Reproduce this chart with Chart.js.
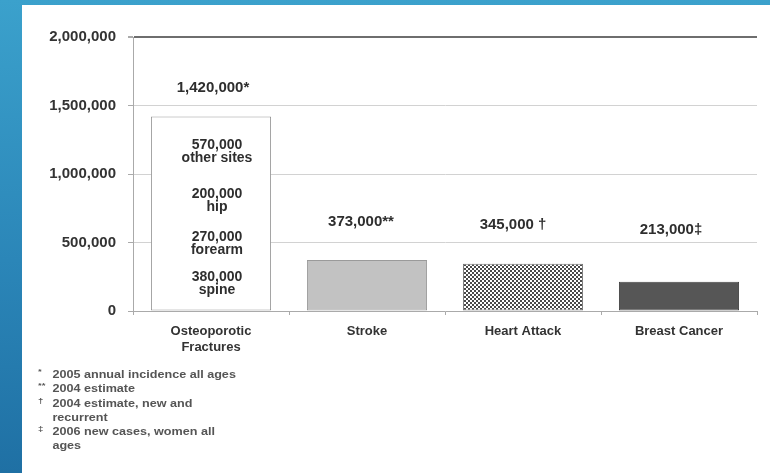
<!DOCTYPE html>
<html>
<head>
<meta charset="utf-8">
<script src="https://cdn.jsdelivr.net/npm/chart.js@4/dist/chart.umd.min.js"></script>
<style>
    html, body { margin: 0; padding: 0; }
    body { width: 770px; height: 473px; overflow: hidden; position: relative;
           background: linear-gradient(180deg, #3ba1cc 0%, #2b86b8 55%, #1f70a4 100%); }
    #panel { position: absolute; left: 22px; top: 5px; width: 748px; height: 468px; background: #fff; }
    #wrap { position: absolute; left: 0; top: 0; width: 770px; height: 473px; }
    #notes { position: absolute; left: 38px; top: 367px; font: bold 10.5px "Liberation Sans", Arial, sans-serif;
             color: #555; line-height: 14.3px; transform: scaleX(1.2); transform-origin: left top; }
    #notes div { position: relative; padding-left: 12px; width: 156px; }
    #notes span { position: absolute; left: 0; top: -2px; font-size: 8px; }
</style>
</head>
<body>
<div id="panel"></div>
<div id="wrap"><canvas id="chart" width="770" height="473"></canvas></div>
<div id="notes"></div>
<script>
const categories = [['Osteoporotic', 'Fractures'], 'Stroke', 'Heart Attack', 'Breast Cancer'];
const cases = [1420000, 373000, 345000, 213000];
const marks = ['*', '**', ' †', '‡'];
const fractureSites = ['other sites', 'hip', 'forearm', 'spine'];
const fractureCounts = [570000, 200000, 270000, 380000];
const yTicks = [0, 500000, 1000000, 1500000, 2000000];
const footnotes = [
    ['*', '2005 annual incidence all ages'],
    ['**', '2004 estimate'],
    ['†', '2004 estimate, new and recurrent'],
    ['‡', '2006 new cases, women all ages']
];

const fmt = v => v.toLocaleString('en-US');
const FONT = '"Liberation Sans", Arial, sans-serif';

// little checker fill for the heart attack bar
const pc = document.createElement('canvas');
pc.width = 4; pc.height = 4;
const px = pc.getContext('2d');
px.fillStyle = '#fff'; px.fillRect(0, 0, 4, 4);
px.fillStyle = '#4a4a4a'; px.fillRect(0, 0, 2, 2); px.fillRect(2, 2, 2, 2);
const checker = px.createPattern(pc, 'repeat');

// label offsets (style only): shift from bar centre, lift above bar top
const labelDx = [2, -6, -10, -8];
const labelLift = [29, 38, 39, 52];
const siteDrop = [29, 78, 121, 161];

const barText = {
    id: 'barText',
    afterDatasetsDraw(chart) {
        const c = chart.ctx;
        const bars = chart.getDatasetMeta(0).data;
        c.save();
        c.fillStyle = '#2e2e2e';
        c.textAlign = 'center';
        c.textBaseline = 'middle';
        c.font = 'bold 15px ' + FONT;
        bars.forEach((b, i) => {
            c.fillText(fmt(cases[i]) + marks[i], b.x + labelDx[i], b.y - labelLift[i]);
        });
        const f = bars[0];
        c.font = 'bold 14px ' + FONT;
        fractureSites.forEach((s, i) => {
            const y = f.y + siteDrop[i];
            c.fillText(fmt(fractureCounts[i]), f.x + 6, y);
            c.fillText(s, f.x + 6, y + 13);
        });
        c.restore();
    }
};

new Chart(document.getElementById('chart').getContext('2d'), {
    type: 'bar',
    data: {
        labels: categories,
        datasets: [{
            data: cases,
            backgroundColor: ['#ffffff', '#c2c2c2', checker, '#565656'],
            borderColor: ['#9a9a9a', '#9a9a9a', '#777', '#444'],
            borderWidth: 1,
            borderSkipped: false,
            categoryPercentage: 0.77,
            barPercentage: 1
        }]
    },
    options: {
        responsive: false,
        animation: false,
        layout: { padding: { left: 0, right: 13, top: 37, bottom: 0 } },
        plugins: { legend: { display: false }, tooltip: { enabled: false } },
        scales: {
            y: {
                min: 0, max: 2000000,
                afterBuildTicks: s => { s.ticks = yTicks.map(v => ({ value: v })); },
                afterFit: s => { s.width = 133; },
                ticks: { callback: v => fmt(v), color: '#333', padding: 12, font: { family: FONT, size: 15, weight: 'bold' } },
                grid: {
                    color: c => c.tick && c.tick.value === 2000000 ? '#6e6e6e' : '#d2d2d2',
                    lineWidth: c => c.tick && c.tick.value === 2000000 ? 2 : 1,
                    tickColor: '#aaa', tickLength: 5
                },
                border: { color: '#aaa' }
            },
            x: {
                afterFit: s => { s.height = 162; },
                ticks: { color: '#333', padding: 8, font: { family: FONT, size: 13, weight: 'bold', lineHeight: 1.25 } },
                grid: { drawOnChartArea: false, tickLength: 4, color: '#aaa', offset: true },
                border: { color: '#aaa' }
            }
        }
    },
    plugins: [barText]
});

const notes = document.getElementById('notes');
footnotes.forEach(([sym, txt]) => {
    const d = document.createElement('div');
    d.innerHTML = '<span>' + sym + '</span>';
    d.appendChild(document.createTextNode(txt));
    notes.appendChild(d);
});
</script>
</body>
</html>
